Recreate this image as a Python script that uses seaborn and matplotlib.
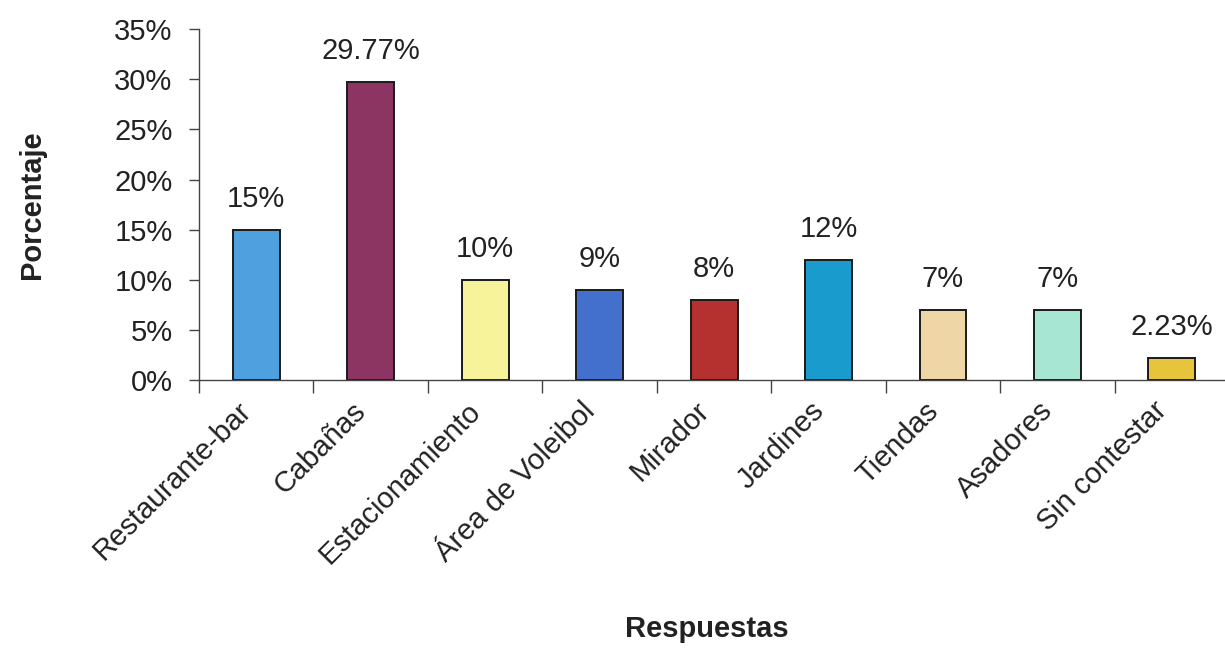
import matplotlib
matplotlib.use("Agg")
import matplotlib.pyplot as plt
import matplotlib.transforms as mtransforms
import seaborn as sns
import pandas as pd
from matplotlib.ticker import FixedLocator, PercentFormatter

# data
categorias = ["Restaurante-bar", "Cabañas", "Estacionamiento", "Área de Voleibol",
              "Mirador", "Jardines", "Tiendas", "Asadores", "Sin contestar"]
porcentajes = [15, 29.77, 10, 9, 8, 12, 7, 7, 2.23]
etiquetas = ["15%", "29.77%", "10%", "9%", "8%", "12%", "7%", "7%", "2.23%"]
colores = ["#4FA0DF", "#8C3562", "#F6F39A", "#4270CC", "#B4312F",
           "#1A9BCD", "#EED6A6", "#A6E6D2", "#E6C43C"]

df = pd.DataFrame({"Respuestas": categorias, "Porcentaje": porcentajes})

sns.set_style("ticks")
plt.rcParams["font.family"] = ["Liberation Sans", "DejaVu Sans"]
txt = "#222222"
fs = 21

fig = plt.figure(figsize=(12.25, 6.52), dpi=100)
ax = fig.add_axes([0.1624, 0.417, 0.841, 0.5383])

sns.barplot(data=df, x="Respuestas", y="Porcentaje", hue="Respuestas",
            palette=colores, saturation=1, legend=False, width=0.41,
            edgecolor="#1a1a1a", linewidth=1.4, ax=ax)

for i, (v, lab) in enumerate(zip(porcentajes, etiquetas)):
    ax.annotate(lab, (i, v), xytext=(0, 12), textcoords="offset points",
                ha="center", va="bottom", fontsize=fs, color=txt)

ax.set_xlim(-0.5, 8.5)
ax.set_ylim(0, 35)
ax.set_yticks(range(0, 36, 5))
ax.yaxis.set_major_formatter(PercentFormatter(decimals=0))

# visible ticks between categories, labels at bar centers
ax.xaxis.set_minor_locator(FixedLocator([i - 0.5 for i in range(10)]))
ax.tick_params(axis="x", which="minor", bottom=True, length=9, width=1,
               color="#444444", direction="out")
ax.tick_params(axis="x", which="major", bottom=True, length=0, pad=19)
ax.tick_params(axis="y", left=True, length=7, width=1, color="#444444",
               direction="out", pad=12)
ax.tick_params(labelsize=fs, labelcolor=txt)
shift = mtransforms.ScaledTranslation(-9 / 100, 0, fig.dpi_scale_trans)
for t in ax.get_xticklabels():
    t.set_rotation(45)
    t.set_ha("right")
    t.set_va("center")
    t.set_rotation_mode("anchor")
    t.set_transform(t.get_transform() + shift)

sns.despine(ax=ax)
for s in ["left", "bottom"]:
    ax.spines[s].set_color("#444444")
    ax.spines[s].set_linewidth(1)

ax.set_ylabel("Porcentaje", fontsize=fs, fontweight="bold", color=txt, labelpad=49)
ax.set_xlabel("")
fig.text(0.577, 0.035, "Respuestas", fontsize=fs, fontweight="bold", color=txt,
         ha="center", va="center")

fig.savefig("out.png", dpi=100)
